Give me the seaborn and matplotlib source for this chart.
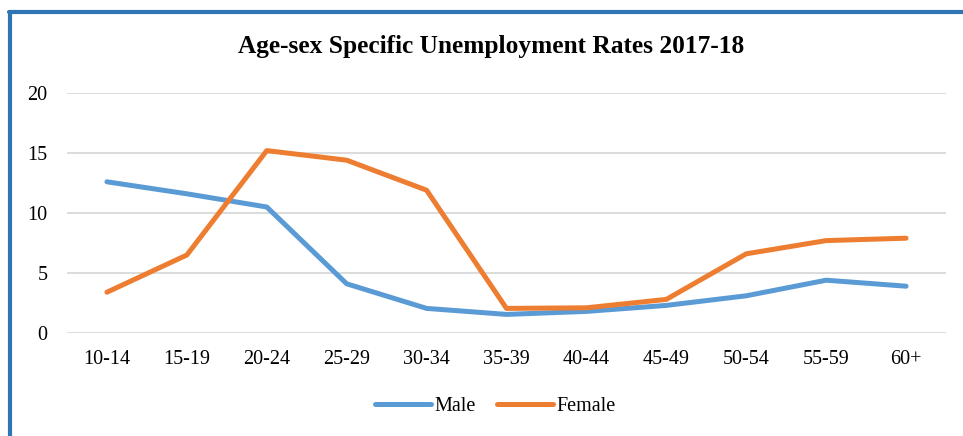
import pandas as pd
import seaborn as sns
import matplotlib.pyplot as plt
from matplotlib.lines import Line2D

age_groups = ["10-14", "15-19", "20-24", "25-29", "30-34", "35-39",
              "40-44", "45-49", "50-54", "55-59", "60+"]
male = [12.6, 11.6, 10.5, 4.1, 2.05, 1.55, 1.8, 2.3, 3.1, 4.4, 3.9]
female = [3.4, 6.5, 15.2, 14.4, 11.9, 2.05, 2.1, 2.8, 6.6, 7.7, 7.9]

df = pd.DataFrame({
    "Age": age_groups * 2,
    "Rate": male + female,
    "Sex": ["Male"] * len(male) + ["Female"] * len(female),
})

sns.set_style("white")
plt.rcParams["font.family"] = ["Liberation Serif", "DejaVu Serif"]
plt.rcParams["text.color"] = "black"

fig = plt.figure(figsize=(9.63, 4.36), dpi=100)
ax = fig.add_axes([67 / 963, 1 - 333 / 436, (946 - 67) / 963, 240 / 436])

sns.lineplot(
    data=df,
    x="Age",
    y="Rate",
    hue="Sex",
    palette={"Male": "#5B9BD5", "Female": "#ED7D31"},
    linewidth=3.6,
    sort=False,
    legend=False,
    ax=ax,
)
for ln in ax.lines:
    ln.set_solid_capstyle("round")
    ln.set_solid_joinstyle("round")

ax.set_xlim(-0.5, len(age_groups) - 0.5)
ax.set_ylim(0, 20)
ax.set_yticks([0, 5, 10, 15, 20])
ax.yaxis.grid(True, color="#D9D9D9", linewidth=1.3)
ax.set_axisbelow(True)
for s in ax.spines.values():
    s.set_visible(False)
ax.tick_params(axis="both", length=0, labelsize=14.5, colors="black")
ax.tick_params(axis="y", pad=14)
ax.tick_params(axis="x", pad=12)
ax.set_xlabel("")
ax.set_ylabel("")

fig.text(491 / 963, 1 - 46 / 436, "Age-sex Specific Unemployment Rates 2017-18",
         ha="center", va="center", fontsize=18.3, fontweight="bold",
         color="black")

handles = [Line2D([], [], color="#5B9BD5", lw=3.6, solid_capstyle="round"),
           Line2D([], [], color="#ED7D31", lw=3.6, solid_capstyle="round")]
fig.legend(handles, ["Male", "Female"], loc="center",
           bbox_to_anchor=(495 / 963, 1 - 406 / 436), ncol=2, frameon=False,
           fontsize=14.5, handlelength=2.8, handletextpad=0.15,
           columnspacing=1.05, borderpad=0, labelcolor="black")

# blue frame on left and top
fig.add_artist(Line2D([10 / 963, 10 / 963], [0, 1 - 12 / 436],
                      color="#2E75B6", lw=3, transform=fig.transFigure))
fig.add_artist(Line2D([9 / 963, 1], [1 - 12 / 436, 1 - 12 / 436],
                      color="#2E75B6", lw=3, transform=fig.transFigure))

fig.savefig("out.png", dpi=100)
